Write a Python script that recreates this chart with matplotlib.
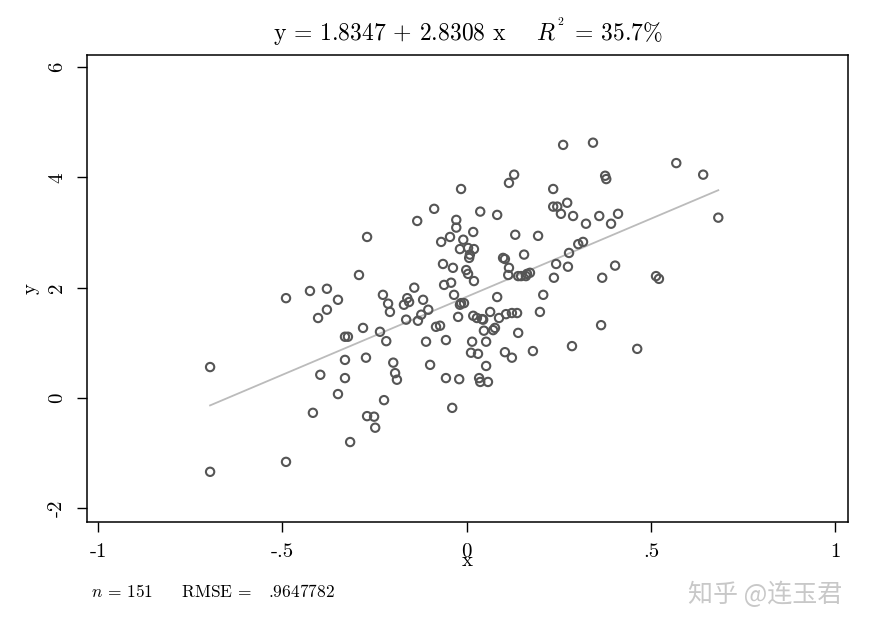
import matplotlib
matplotlib.use("Agg")
import matplotlib.pyplot as plt
import numpy as np

x = [-0.696,-0.696,-0.490,-0.490,-0.425,-0.417,-0.403,-0.397,-0.379,-0.379,-0.349,-0.349,-0.330,-0.330,-0.330,-0.322,-0.316,-0.292,-0.281,-0.270,
     -0.273,-0.270,-0.251,-0.248,-0.235,-0.227,-0.218,-0.224,-0.213,-0.208,-0.199,-0.194,-0.189,-0.170,-0.161,-0.164,-0.156,-0.142,-0.132,-0.134,
     -0.123,-0.118,-0.110,-0.104,-0.099,-0.088,-0.083,-0.072,-0.069,-0.064,-0.061,-0.056,-0.056,-0.045,-0.042,-0.039,-0.037,-0.034,-0.028,-0.028,
     -0.023,-0.020,-0.018,-0.018,-0.015,-0.015,-0.009,-0.007,-0.001,0.004,0.004,0.007,0.009,0.012,0.015,0.018,0.018,0.020,0.020,0.028,
     0.031,0.034,0.037,0.037,0.042,0.045,0.047,0.053,0.053,0.058,0.064,0.072,0.077,0.083,0.083,0.088,0.099,0.104,0.104,0.107,
     0.113,0.115,0.115,0.123,0.123,0.129,0.132,0.137,0.140,0.140,0.148,0.156,0.161,0.164,0.172,0.180,0.194,0.199,0.208,0.235,
     0.235,0.237,0.246,0.243,0.256,0.262,0.273,0.275,0.278,0.286,0.289,0.303,0.316,0.324,0.343,0.360,0.365,0.368,0.376,0.379,
     0.392,0.403,0.411,0.463,0.514,0.522,0.569,0.642,0.683]
y = [0.56,-1.34,1.81,-1.16,1.94,-0.27,1.45,0.42,1.98,1.60,1.78,0.07,1.11,0.69,0.36,1.11,-0.80,2.23,1.27,2.92,
     0.73,-0.33,-0.34,-0.54,1.20,1.87,1.03,-0.04,1.71,1.56,0.64,0.45,0.33,1.69,1.81,1.42,1.74,2.00,1.40,3.21,
     1.51,1.78,1.02,1.60,0.60,3.43,1.29,1.31,2.83,2.43,2.05,1.05,0.36,2.92,2.09,-0.18,2.36,1.87,3.09,3.23,
     1.47,0.34,1.69,2.70,3.79,1.72,2.87,1.72,2.32,2.72,2.25,2.54,2.60,0.82,1.02,3.01,1.49,2.70,2.12,1.45,
     0.80,0.36,3.38,0.29,1.43,1.42,1.22,0.58,1.02,0.29,1.56,1.23,1.27,1.83,3.32,1.45,2.54,2.52,0.83,1.52,
     2.23,3.90,2.36,1.54,0.73,4.05,2.96,1.54,1.18,2.21,2.21,2.60,2.21,2.25,2.27,0.85,2.94,1.56,1.87,3.79,
     3.47,2.18,3.47,2.43,3.34,4.59,3.54,2.38,2.63,0.94,3.30,2.79,2.83,3.16,4.63,3.30,1.32,2.18,4.03,3.97,
     3.16,2.40,3.34,0.89,2.21,2.16,4.26,4.05,3.27]
intercept, slope = 1.8347, 2.8308
xticks = [-1, -0.5, 0, 0.5, 1]
xticklabels = ["-1", "-.5", "0", ".5", "1"]
yticks = [-2, 0, 2, 4, 6]

plt.rcParams['mathtext.fontset'] = 'cm'
plt.rcParams['font.family'] = ['cmr10', 'DejaVu Serif']
plt.rcParams['axes.unicode_minus'] = False

fig = plt.figure(figsize=(8.71, 6.34), dpi=100)
ax = fig.add_axes([0.0999, 0.1767, 0.8737, 0.7365])
ax.scatter(x, y, s=36, facecolors='none', edgecolors='#555555', linewidths=1.5, zorder=3)
xs = np.array([min(x), max(x)])
ax.plot(xs, intercept + slope * xs, color='#bbbbbb', lw=1.3, zorder=2)
ax.set_xlim(-1.03, 1.035)
ax.set_ylim(-2.25, 6.22)
ax.set_xticks(xticks)
ax.set_xticklabels(xticklabels, fontsize=15)
ax.set_yticks(yticks)
ax.set_yticklabels([str(v) for v in yticks], fontsize=15, rotation=90, va='center')
ax.tick_params(direction='out', length=7, width=1, colors='black', pad=8)
for s in ax.spines.values():
    s.set_linewidth(1.1)
ax.set_xlabel("x", fontsize=15, labelpad=-6)
ax.set_ylabel("y", fontsize=15, labelpad=6)
ax.set_title(r"y = 1.8347 + 2.8308 x    $R^{^2}$ = 35.7%", fontsize=17, pad=10)
fig.text(0.104, 0.058, r"$n$ = 151     RMSE =   .9647782", fontsize=12.5)
fig.text(0.79, 0.05, "知乎 @连玉君", fontsize=18, color='#c8c8c8',
         family=['Noto Sans CJK SC', 'DejaVu Sans'])
fig.savefig("out.png", dpi=100)
